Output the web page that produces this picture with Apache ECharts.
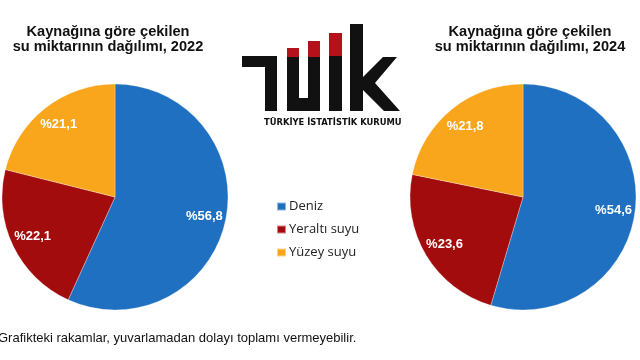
<!DOCTYPE html>
<html>
<head>
<meta charset="utf-8">
<script src="https://cdn.jsdelivr.net/npm/echarts@6/dist/echarts.min.js"></script>
<style>html,body{margin:0;padding:0;background:#fff;}#c{width:640px;height:360px;}</style>
</head>
<body>
<div id="c"></div>
<script>
const categories = ['Deniz', 'Yeraltı suyu', 'Yüzey suyu'];
const values2022 = [56.8, 22.1, 21.1];
const values2024 = [54.6, 23.6, 21.8];
const colors = ['#1f70c1', '#a30c0c', '#f9a61c'];
const titles = ['Kaynağına göre çekilen\nsu miktarının dağılımı, 2022', 'Kaynağına göre çekilen\nsu miktarının dağılımı, 2024'];
const footnote = 'Grafikteki rakamlar, yuvarlamadan dolayı toplamı vermeyebilir.';
const logoText = 'TÜRKİYE İSTATİSTİK KURUMU';

function mk(vals) { return categories.map((n, i) => ({ name: n, value: vals[i] })); }
const fmt = p => '%' + p.value.toFixed(1).replace('.', ',');

function pieSeries(vals, cx) {
  return [{
    type: 'pie', center: [cx, 197], radius: [0, 113], startAngle: 90, clockwise: true,
    silent: true, animation: false,
    itemStyle: { borderColor: 'rgba(255,255,255,0.5)', borderWidth: 0.6 },
    label: { show: false }, labelLine: { show: false },
    data: mk(vals)
  }, {
    type: 'pie', center: [cx, 197], radius: [64, 113], startAngle: 90, clockwise: true,
    silent: true, animation: false, legendHoverLink: false,
    itemStyle: { color: 'rgba(0,0,0,0)' },
    label: { show: true, position: 'inside', formatter: fmt, color: '#fff', fontFamily: 'Liberation Sans, Arial', fontWeight: 'bold', fontSize: 13 },
    labelLine: { show: false },
    data: mk(vals)
  }];
}

const K = '#111', R = '#b3121a';
const logo = [
  { type: 'rect', shape: { x: 242, y: 56, width: 35, height: 11 }, style: { fill: K } },
  { type: 'rect', shape: { x: 265, y: 56, width: 12, height: 55 }, style: { fill: K } },
  { type: 'rect', shape: { x: 287, y: 57, width: 12, height: 54 }, style: { fill: K } },
  { type: 'rect', shape: { x: 287, y: 48, width: 12, height: 9 }, style: { fill: R } },
  { type: 'rect', shape: { x: 308, y: 57, width: 12, height: 54 }, style: { fill: K } },
  { type: 'rect', shape: { x: 308, y: 41, width: 12, height: 16 }, style: { fill: R } },
  { type: 'rect', shape: { x: 287, y: 98, width: 33, height: 13 }, style: { fill: K } },
  { type: 'rect', shape: { x: 329, y: 56, width: 13, height: 55 }, style: { fill: K } },
  { type: 'rect', shape: { x: 329, y: 33, width: 13, height: 23 }, style: { fill: R } },
  { type: 'rect', shape: { x: 350, y: 24, width: 13, height: 87 }, style: { fill: K } },
  { type: 'polygon', shape: { points: [[363, 77], [383, 57], [397, 57], [375, 83], [400, 111], [384, 111], [363, 90]] }, style: { fill: K } },
  { type: 'text', left: 264, top: 118, style: { text: logoText, fill: K, font: 'bold 9.3px "Liberation Sans Narrow", "DejaVu Sans Condensed", sans-serif' } }
];

const titleStyle = { fontFamily: 'Liberation Sans, Arial', fontWeight: 'bold', fontSize: 14.6, lineHeight: 14.5, color: '#111' };

const chart = echarts.init(document.getElementById('c'), null, { renderer: 'canvas' });
chart.setOption({
  backgroundColor: '#fff',
  animation: false,
  color: colors,
  title: [
    { text: titles[0], left: 103, top: 20, textAlign: 'center', textStyle: titleStyle },
    { text: titles[1], left: 525, top: 20, textAlign: 'center', textStyle: titleStyle }
  ],
  legend: {
    orient: 'vertical', left: 276, top: 200, padding: 0, itemWidth: 9, itemHeight: 8, itemGap: 10,
    icon: 'rect', selectedMode: false,
    data: categories,
    textStyle: { fontFamily: 'Open Sans', fontSize: 13, color: '#222', padding: [0, 0, 0, -2] }
  },
  graphic: logo.concat([
    { type: 'text', left: -2, top: 332, style: { text: footnote, fill: '#111', font: '13px "Liberation Sans", Arial' } }
  ]),
  series: pieSeries(values2022, 115).concat(pieSeries(values2024, 523))
});
</script>
</body>
</html>
